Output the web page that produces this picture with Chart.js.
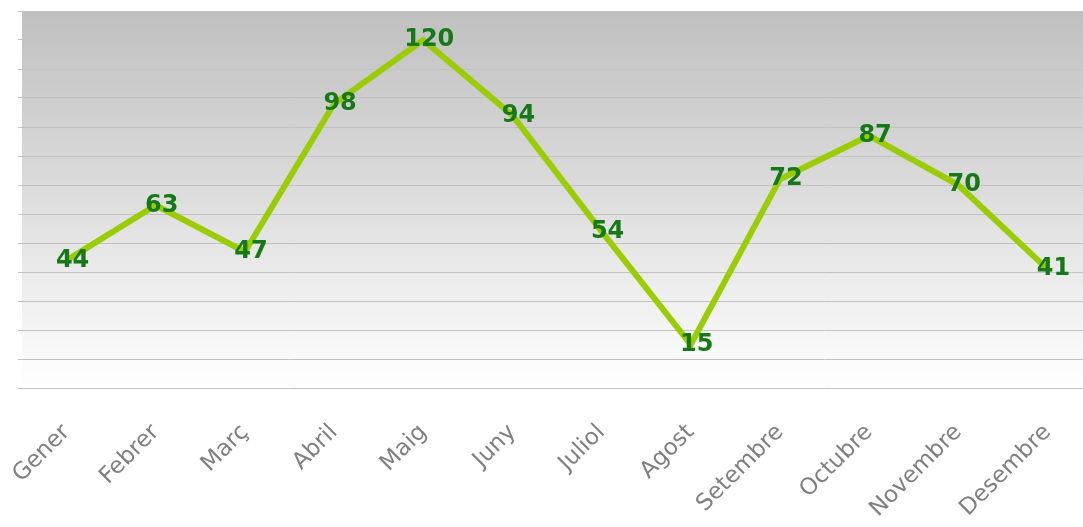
<!DOCTYPE html>
<html>
<head>
<meta charset="utf-8">
<script src="https://cdn.jsdelivr.net/npm/chart.js@4/dist/chart.umd.min.js"></script>
<style>
  html, body { margin: 0; padding: 0; background: #ffffff; overflow: hidden; width: 1083px; height: 527px; }
  #wrap { width: 1092px; height: 527px; position: relative; }
</style>
</head>
<body>
<div id="wrap"><canvas id="c"></canvas></div>
<script>
const months = ["Gener", "Febrer", "Març", "Abril", "Maig", "Juny", "Juliol", "Agost", "Setembre", "Octubre", "Novembre", "Desembre"];
const values = [44, 63, 47, 98, 120, 94, 54, 15, 72, 87, 70, 41];
const yMin = 0;
const yMax = 130;
const yStep = 10;

const bgPlugin = {
  id: 'bgGradient',
  beforeDraw(chart) {
    const { ctx, chartArea: a } = chart;
    const g = ctx.createLinearGradient(0, a.top, 0, a.bottom);
    g.addColorStop(0, '#c0c0c0');
    g.addColorStop(0.45, '#dadada');
    g.addColorStop(1, '#ffffff');
    ctx.save();
    ctx.fillStyle = g;
    ctx.fillRect(a.left, a.top, a.right - a.left, a.bottom - a.top);
    ctx.restore();
  }
};

const labelPlugin = {
  id: 'valueLabels',
  afterDatasetsDraw(chart) {
    const { ctx } = chart;
    const meta = chart.getDatasetMeta(0);
    ctx.save();
    ctx.font = 'bold 24px "DejaVu Sans", Verdana, sans-serif';
    ctx.fillStyle = '#167816';
    ctx.textAlign = 'center';
    ctx.textBaseline = 'middle';
    meta.data.forEach((pt, i) => {
      ctx.fillText(String(chart.data.datasets[0].data[i]), pt.x + 6, pt.y);
    });
    ctx.restore();
  }
};

new Chart(document.getElementById('c'), {
  type: 'line',
  data: {
    labels: months,
    datasets: [{
      data: values,
      borderColor: '#9acd00',
      borderWidth: 6,
      pointRadius: 0,
      tension: 0,
      fill: false,
      borderJoinStyle: 'miter'
    }]
  },
  options: {
    responsive: true,
    maintainAspectRatio: false,
    animation: false,
    layout: { padding: { left: 18, top: 11, right: 0, bottom: 0 } },
    plugins: { legend: { display: false }, tooltip: { enabled: false } },
    scales: {
      x: {
        offset: true,
        grid: { display: false },
        border: { display: false },
        afterFit(scale) {
          scale.height = 139;
          scale.paddingLeft = 0;
          scale.paddingRight = 0;
        },
        ticks: {
          autoSkip: false,
          maxRotation: 45,
          minRotation: 45,
          padding: 23,
          color: '#7f7f7f',
          font: { family: '"DejaVu Sans", Verdana, sans-serif', size: 23 }
        }
      },
      y: {
        min: yMin,
        max: yMax,
        afterFit(scale) { scale.width = 4; },
        grid: { color: '#c2c2c2', lineWidth: 1, drawTicks: true, tickLength: 4 },
        border: { display: false },
        ticks: { display: false, stepSize: yStep }
      }
    }
  },
  plugins: [bgPlugin, labelPlugin]
});
</script>
</body>
</html>
